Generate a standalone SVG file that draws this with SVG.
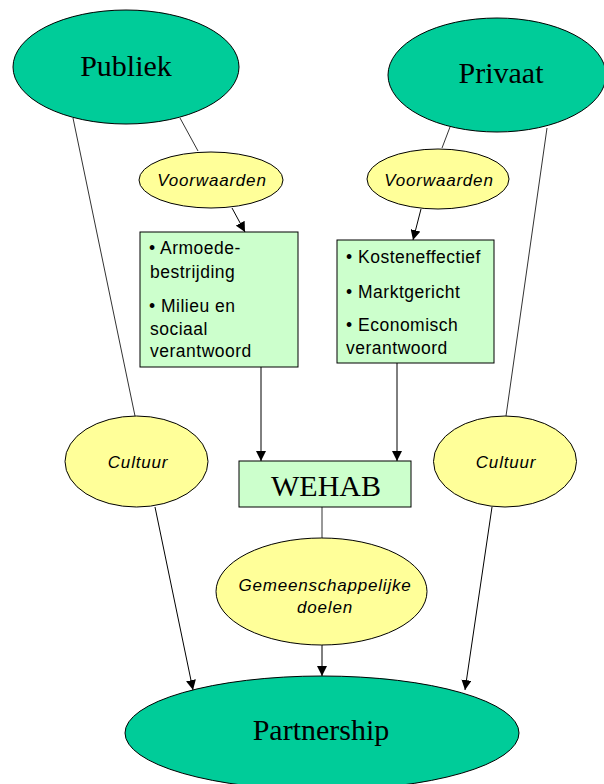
<svg xmlns="http://www.w3.org/2000/svg" width="604" height="784" viewBox="0 0 604 784">
<defs>
<marker id="ah" viewBox="0 0 10 10" refX="10" refY="5" markerWidth="10" markerHeight="10" markerUnits="userSpaceOnUse" orient="auto">
<path d="M0,0 L10,5 L0,10 z" fill="#000"/>
</marker>
<style>
.big{fill:#00CC99;stroke:#000;stroke-width:1}
.yel{fill:#FFFF99;stroke:#000;stroke-width:1}
.box{fill:#CCFFCC;stroke:#000;stroke-width:1}
.serif{font-family:"Liberation Serif","Times New Roman",serif;font-size:30px;fill:#000;text-anchor:middle}
.it{font-family:"Liberation Sans",Arial,sans-serif;font-size:17px;font-style:italic;fill:#000;text-anchor:middle;letter-spacing:0.8px}
.bt{font-family:"Liberation Sans",Arial,sans-serif;font-size:17.5px;fill:#000;letter-spacing:0.5px}
.ln{stroke:#333;stroke-width:1;fill:none}
.ar{stroke:#000;stroke-width:1;fill:none;marker-end:url(#ah)}
</style>
</defs>
<rect width="604" height="784" fill="#fff"/>
<g id="connectors">
<line class="ln" x1="180" y1="118" x2="198" y2="151"/>
<line class="ar" x1="232" y1="208" x2="245" y2="232"/>
<line class="ln" x1="450" y1="127" x2="442" y2="148"/>
<line class="ar" x1="421" y1="209" x2="413" y2="240"/>
<line class="ar" x1="261" y1="367" x2="261" y2="461"/>
<line class="ar" x1="397" y1="363" x2="397" y2="461"/>
<line class="ln" x1="322" y1="507" x2="322" y2="538"/>
<line class="ar" x1="322" y1="645" x2="322" y2="676"/>
<line class="ln" x1="73" y1="118" x2="135" y2="416"/>
<line class="ar" x1="155" y1="507" x2="193" y2="690"/>
<line class="ln" x1="547" y1="128" x2="506" y2="416"/>
<line class="ar" x1="492" y1="507" x2="465" y2="690"/>
</g>
<g id="publiek">
<ellipse class="big" cx="126" cy="67" rx="113" ry="57"/>
<text class="serif" x="126" y="76">Publiek</text>
</g>
<g id="privaat">
<ellipse class="big" cx="497" cy="75" rx="109" ry="57"/>
<text class="serif" x="501" y="83">Privaat</text>
</g>
<g id="voorwaarden-publiek">
<ellipse class="yel" cx="211" cy="180" rx="72" ry="28"/>
<text class="it" x="212" y="186">Voorwaarden</text>
</g>
<g id="voorwaarden-privaat">
<ellipse class="yel" cx="438" cy="179" rx="71" ry="30"/>
<text class="it" x="439" y="186">Voorwaarden</text>
</g>
<g id="box-publiek">
<rect class="box" x="140" y="232" width="158" height="135"/>
<text class="bt" x="149" y="254">• Armoede-</text>
<text class="bt" x="150" y="278">bestrijding</text>
<text class="bt" x="149" y="312">• Milieu en</text>
<text class="bt" x="150" y="335">sociaal</text>
<text class="bt" x="150" y="357">verantwoord</text>
</g>
<g id="box-privaat">
<rect class="box" x="337" y="240" width="157" height="123"/>
<text class="bt" x="346" y="263">• Kosteneffectief</text>
<text class="bt" x="346" y="298">• Marktgericht</text>
<text class="bt" x="346" y="331">• Economisch</text>
<text class="bt" x="346" y="354">verantwoord</text>
</g>
<g id="cultuur-publiek">
<ellipse class="yel" cx="136.5" cy="461.5" rx="71.5" ry="45.5"/>
<text class="it" x="138" y="468">Cultuur</text>
</g>
<g id="cultuur-privaat">
<ellipse class="yel" cx="505" cy="461.5" rx="71.5" ry="45.5"/>
<text class="it" x="506" y="468">Cultuur</text>
</g>
<g id="wehab">
<rect class="box" x="239" y="461" width="172" height="46"/>
<text class="serif" x="326" y="496">WEHAB</text>
</g>
<g id="gemeenschappelijke-doelen">
<ellipse class="yel" cx="321.5" cy="591.5" rx="105.5" ry="53.5"/>
<text class="it" x="325" y="591">Gemeenschappelijke</text>
<text class="it" x="325" y="613">doelen</text>
</g>
<g id="partnership">
<ellipse class="big" cx="322" cy="733" rx="197" ry="57"/>
<text class="serif" x="321" y="740">Partnership</text>
</g>
</svg>
